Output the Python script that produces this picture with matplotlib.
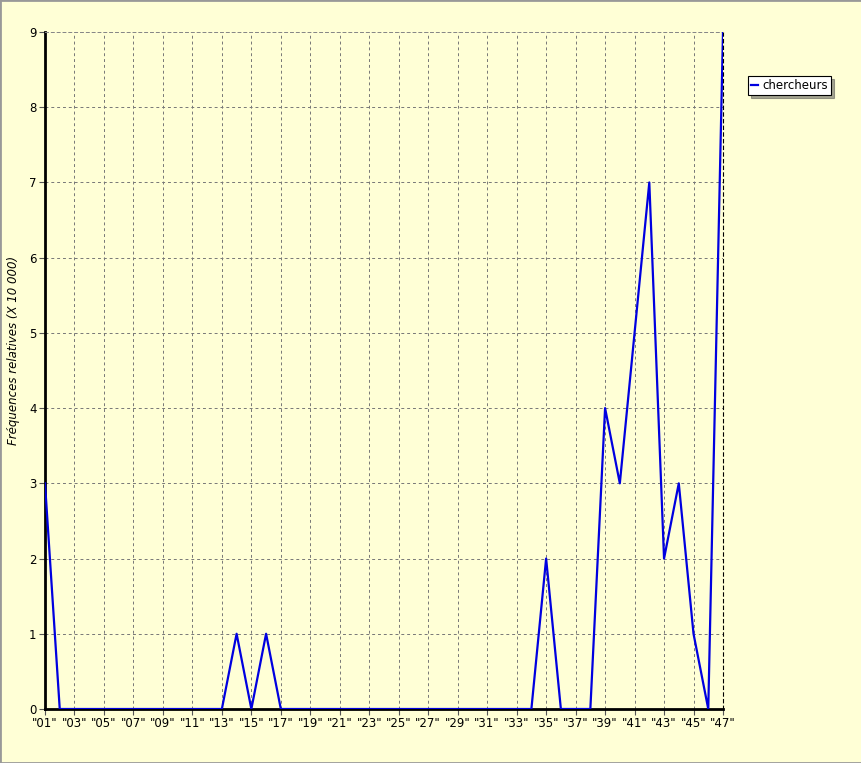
import numpy as np
import matplotlib.pyplot as plt
from matplotlib.patches import Rectangle

# -------------------------------
# Data
# -------------------------------
years = ['"%02d"' % i for i in range(1, 48)]
chercheurs = [3, 0, 0, 0, 0, 0, 0, 0, 0, 0,
              0, 0, 0, 1, 0, 1, 0, 0, 0, 0,
              0, 0, 0, 0, 0, 0, 0, 0, 0, 0,
              0, 0, 0, 0, 2, 0, 0, 0, 4, 3,
              5, 7, 2, 3, 1, 0, 9]
y_ticks = list(range(0, 10))

bg = '#FFFFD6'

fig = plt.figure(figsize=(8.62, 7.63), dpi=100, facecolor=bg)
ax = fig.add_axes([45 / 862, 1 - 709 / 763, (723 - 45) / 862, (709 - 32) / 763])
ax.set_facecolor(bg)

x = np.arange(len(years))
ax.plot(x, chercheurs, color='#0000E0', linewidth=1.6, label='chercheurs', zorder=3)

ax.set_xlim(0, len(years) - 1)
ax.set_ylim(0, 9)

ax.set_xticks(x[::2])
ax.set_xticklabels(years[::2], fontsize=8.5)
ax.set_yticks(y_ticks)
ax.set_yticklabels([str(v) for v in y_ticks], fontsize=8.5)
ax.tick_params(axis='both', length=4, width=0.8, color='#555555', pad=2)

ax.grid(True, linestyle=(0, (3, 3)), color='#777777', linewidth=0.7)

# spines
ax.spines['left'].set_linewidth(2)
ax.spines['bottom'].set_linewidth(2)
ax.spines['right'].set_linestyle((0, (3, 3)))
ax.spines['right'].set_linewidth(0.8)
ax.spines['top'].set_linestyle((0, (3, 3)))
ax.spines['top'].set_linewidth(0.7)
ax.spines['top'].set_color('#888888')

ax.set_ylabel('Fréquences relatives (X 10 000)', fontsize=8.5, style='italic')
ax.yaxis.set_label_coords(-25 / 678, 0.53)

leg = fig.legend(loc='upper left', bbox_to_anchor=(748 / 862, 1 - 76 / 763), fontsize=8.5,
                 frameon=True, fancybox=False, shadow=True, handlelength=0.6,
                 handletextpad=0.4, borderpad=0.25, borderaxespad=0)
leg.get_frame().set_edgecolor('black')
leg.get_frame().set_linewidth(0.8)

# window border
fig.patches.append(Rectangle((0, 0), 1, 1, transform=fig.transFigure, fill=False,
                             edgecolor='#999999', linewidth=2))

fig.savefig('out.png', dpi=100, facecolor=bg)
